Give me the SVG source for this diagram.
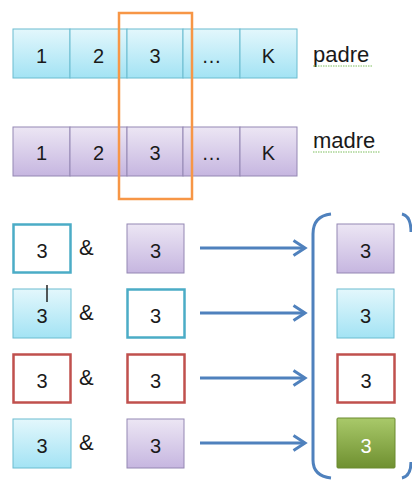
<svg xmlns="http://www.w3.org/2000/svg" width="412" height="480" viewBox="0 0 412 480">
<defs>
<linearGradient id="gc" x1="0" y1="0" x2="0" y2="1"><stop offset="0" stop-color="#e3f7fc"/><stop offset="1" stop-color="#a3e3f4"/></linearGradient>
<linearGradient id="gp" x1="0" y1="0" x2="0" y2="1"><stop offset="0" stop-color="#ece6f4"/><stop offset="1" stop-color="#c6b6e0"/></linearGradient>
<linearGradient id="gg" x1="0" y1="0" x2="0" y2="1"><stop offset="0" stop-color="#a9c96a"/><stop offset="1" stop-color="#6f9030"/></linearGradient>
<marker id="ah" markerWidth="16" markerHeight="18" refX="13" refY="9" orient="auto" markerUnits="userSpaceOnUse"><path d="M1.5,1.5 L13,9 L1.5,16.5" fill="none" stroke="#4f81bd" stroke-width="3"/></marker>
</defs>
<style>
.c{fill:url(#gc);stroke:#6bbcd0;stroke-width:1}
.p{fill:url(#gp);stroke:#9487b3;stroke-width:1}
.t{fill:#fff;stroke:#4bacc6;stroke-width:2.5}
.r{fill:#fff;stroke:#c0504d;stroke-width:2.5}
.g{fill:url(#gg);stroke:#6a8a2e;stroke-width:1}
text{font-family:"Liberation Sans",Arial,sans-serif;fill:#1a1a1a}
.d{font-size:20px;text-anchor:middle}
.w{fill:#fff}
.l{font-size:22px}
.a{font-size:22px}
.cn{fill:none;stroke:#4f81bd;stroke-width:3}
.sq{fill:none;stroke:#7fbf5f;stroke-width:1;stroke-dasharray:1.5 1}
</style>
<g id="padre">
<rect class="c" x="13" y="29" width="57" height="49"/><text class="d" x="41.5" y="63">1</text>
<rect class="c" x="70" y="29" width="57" height="49"/><text class="d" x="98.5" y="63">2</text>
<rect class="c" x="127" y="29" width="56" height="49"/><text class="d" x="155" y="63">3</text>
<rect class="c" x="183" y="29" width="57" height="49"/><text class="d" x="211.5" y="63">…</text>
<rect class="c" x="240" y="29" width="57" height="49"/><text class="d" x="268.5" y="63">K</text>
<text class="l" x="313" y="62">padre</text>
<path class="sq" d="M313,66 H372"/>
</g>
<g id="madre">
<rect class="p" x="13" y="127" width="57" height="49"/><text class="d" x="41.5" y="160">1</text>
<rect class="p" x="70" y="127" width="57" height="49"/><text class="d" x="98.5" y="160">2</text>
<rect class="p" x="127" y="127" width="56" height="49"/><text class="d" x="155" y="160">3</text>
<rect class="p" x="183" y="127" width="57" height="49"/><text class="d" x="211.5" y="160">…</text>
<rect class="p" x="240" y="127" width="57" height="49"/><text class="d" x="268.5" y="160">K</text>
<text class="l" x="313" y="148">madre</text>
<path class="sq" d="M313,152 H380"/>
</g>
<g id="selection">
<rect x="119" y="13" width="73" height="186" fill="none" stroke="#f79646" stroke-width="2.5"/>
</g>
<g id="row1">
<rect class="t" x="13.5" y="224.5" width="57" height="48"/><text class="d" x="42" y="258">3</text>
<text class="a" x="79" y="255">&amp;</text>
<rect class="p" x="127" y="224" width="57" height="49"/><text class="d" x="155.5" y="258">3</text>
</g>
<g id="row2">
<rect class="c" x="13" y="289" width="58" height="49"/><text class="d" x="42" y="323">3</text>
<path d="M47,285 V302" stroke="#222" stroke-width="1.5"/>
<text class="a" x="79" y="320">&amp;</text>
<rect class="t" x="127.5" y="289.5" width="57" height="48"/><text class="d" x="155.5" y="323">3</text>
</g>
<g id="row3">
<rect class="r" x="13.5" y="354.5" width="57" height="48"/><text class="d" x="42" y="388">3</text>
<text class="a" x="79" y="385">&amp;</text>
<rect class="r" x="127.5" y="354.5" width="57" height="48"/><text class="d" x="155.5" y="388">3</text>
</g>
<g id="row4">
<rect class="c" x="13" y="419" width="58" height="49"/><text class="d" x="42" y="453">3</text>
<text class="a" x="79" y="450">&amp;</text>
<rect class="p" x="127" y="419" width="57" height="49"/><text class="d" x="155.5" y="453">3</text>
</g>
<g id="results">
<rect class="p" x="337" y="224" width="57" height="49"/><text class="d" x="365.5" y="258">3</text>
<rect class="c" x="337" y="289" width="57" height="49"/><text class="d" x="365.5" y="323">3</text>
<rect class="r" x="337.5" y="354.5" width="57" height="48"/><text class="d" x="366" y="388">3</text>
<rect class="g" x="337" y="418" width="58" height="50" rx="1"/><text class="d w" x="366" y="453">3</text>
</g>
<g id="connectors">
<line class="cn" x1="200" y1="248" x2="305" y2="248" marker-end="url(#ah)"/>
<line class="cn" x1="200" y1="313" x2="305" y2="313" marker-end="url(#ah)"/>
<line class="cn" x1="200" y1="378" x2="305" y2="378" marker-end="url(#ah)"/>
<line class="cn" x1="200" y1="443" x2="305" y2="443" marker-end="url(#ah)"/>
<path class="cn" d="M331,214 Q313,216 313,234 V460 Q313,476 331,478"/>
<path class="cn" d="M402,214 Q411,216 411,232 M411,462 Q411,476 402,478"/>
</g>
</svg>
